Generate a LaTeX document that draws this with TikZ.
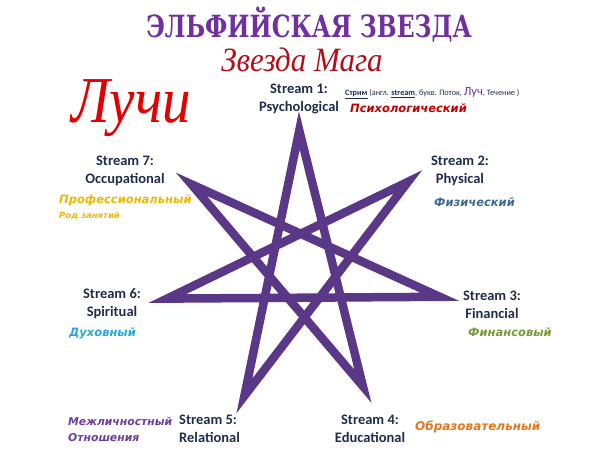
\documentclass[tikz,border=0pt]{standalone}
\usepackage{graphicx}
\usepackage{fontspec}
\setmainfont{Carlito}
\newfontfamily\rusfont{DejaVu Sans}
\newfontfamily\titlefont{DejaVu Serif}
\newfontfamily\handfont{Liberation Serif}
\definecolor{starpurple}{RGB}{90,55,135}
\definecolor{labnavy}{RGB}{31,45,77}
\definecolor{titlepurple}{RGB}{112,48,160}
\definecolor{magared}{RGB}{176,16,26}
\definecolor{rayred}{RGB}{228,0,0}
\definecolor{psyred}{RGB}{192,0,0}
\definecolor{profyellow}{RGB}{236,184,0}
\definecolor{physblue}{RGB}{61,106,153}
\definecolor{spirblue}{RGB}{41,168,216}
\definecolor{finolive}{RGB}{122,154,58}
\definecolor{eduorange}{RGB}{224,120,32}
\definecolor{relpurple}{RGB}{107,63,160}
\tikzset{
  streamlab/.style={align=center, text=labnavy, font=\fontsize{14.5}{18}\selectfont\bfseries, inner sep=0pt},
  ruslab/.style={anchor=west, inner sep=0pt, font=\rusfont\fontsize{11.5}{15}\selectfont\bfseries\itshape},
}
\begin{document}
\begin{tikzpicture}[x=1pt,y=-1pt]
\useasboundingbox (0,0) rectangle (600,448);
% titles
\node (title) at (309,25) {\scalebox{1}[1.3]{\titlefont\fontsize{23.5}{28}\selectfont\bfseries\color{titlepurple}ЭЛЬФИЙСКАЯ ЗВЕЗДА}};
\node (maga) at (302,60) {\scalebox{1}[1.1]{\handfont\fontsize{31}{34}\selectfont\itshape\color{magared}Звезда Мага}};
\node (rays) at (131,108) {\scalebox{1}[1.15]{\handfont\fontsize{57}{60}\selectfont\itshape\color{rayred}Лучи}};
% star
\coordinate (v1) at (299.3,130.5);
\coordinate (v2) at (408.0,181.8);
\coordinate (v3) at (439.8,296.8);
\coordinate (v4) at (362.9,386.2);
\coordinate (v5) at (244.4,395.9);
\coordinate (v6) at (167.1,298.6);
\coordinate (v7) at (191.4,184.3);
\draw[starpurple, line width=8.5pt, line join=miter, miter limit=10] (v1)--(v4)--(v7)--(v3)--(v6)--(v2)--(v5)--cycle;
% streams
\node[streamlab] (st1) at (299,99) {Stream 1:\\Psychological};
\node[streamlab] (st2) at (460,171) {Stream 2:\\Physical};
\node[streamlab] (st3) at (492,305) {Stream 3:\\Financial};
\node[streamlab] (st4) at (370,429) {Stream 4:\\Educational};
\node[streamlab, align=left, anchor=west] (st5) at (179,429) {Stream 5:\\Relational};
\node[streamlab] (st6) at (112,304) {Stream 6:\\Spiritual};
\node[streamlab] (st7) at (125,171) {Stream 7:\\Occupational};
% russian names
\node[ruslab, text=psyred] (ru1) at (350,108) {Психологический};
\node[ruslab, text=physblue] (ru2) at (434,202) {Физический};
\node[ruslab, text=finolive] (ru3) at (468,332) {Финансовый};
\node[ruslab, text=eduorange, font=\rusfont\fontsize{12}{15}\selectfont\bfseries\itshape] (ru4) at (415,427) {Образовательный};
\node[ruslab, text=relpurple, align=left, font=\rusfont\fontsize{10.8}{16}\selectfont\bfseries\itshape] (ru5) at (68,429) {Межличностный\\Отношения};
\node[ruslab, text=spirblue] (ru6) at (69,333) {Духовный};
\node[ruslab, text=profyellow] (ru7) at (59,200) {Профессиональный};
\node[ruslab, text=profyellow, font=\rusfont\fontsize{8.5}{10}\selectfont\bfseries\itshape] (ru7b) at (59,216) {Род занятий};
% note
\node[anchor=west, inner sep=0pt, text=labnavy, font=\fontsize{8.2}{9}\selectfont] (note) at (345,93) {\textbf{\underline{Стрим}} (англ. \textbf{\underline{stream}}, букв. Поток, {\fontsize{12.5}{12}\selectfont\color{titlepurple}Луч}, Течение )};
\end{tikzpicture}
\end{document}
